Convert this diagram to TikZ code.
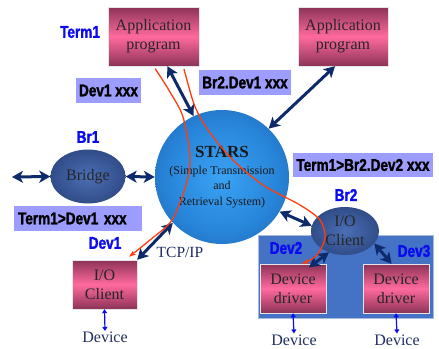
\documentclass[tikz,border=0pt]{standalone}
\usepackage{fontspec}
\setmainfont{Liberation Serif}
\newfontfamily\tagfont{Liberation Sans}[FakeStretch=0.8,FakeBold=1.5]
\usetikzlibrary{arrows.meta,shapes.geometric}
\definecolor{pinkbr}{HTML}{FF6A9D}
\definecolor{pinkdk}{HTML}{8C3357}
\definecolor{tagfill}{HTML}{9D9DFF}
\definecolor{labelblue}{HTML}{0A0AF0}
\definecolor{bayblue}{HTML}{4472C4}
\definecolor{bayedge}{HTML}{A9BCE0}
\definecolor{arrownavy}{HTML}{0D2A6B}
\definecolor{routered}{HTML}{FF3D0D}
\definecolor{textnavy}{HTML}{1F2D5E}
\definecolor{starsin}{HTML}{3AA2F4}
\definecolor{starsmid}{HTML}{2886DA}
\definecolor{starsdeep}{HTML}{1A5AA5}
\definecolor{starsout}{HTML}{0D2C5A}
\definecolor{ovalin}{HTML}{4B6EB5}
\definecolor{ovalout}{HTML}{172C5C}
\pgfdeclareradialshading{starsball}{\pgfpoint{0bp}{0bp}}{color(0bp)=(starsin); color(20bp)=(starsmid); color(40bp)=(starsdeep); color(50bp)=(starsout)}
\pgfdeclareradialshading{ovalball}{\pgfpoint{0bp}{0bp}}{color(0bp)=(ovalin); color(50bp)=(ovalout)}

\begin{document}
\begin{tikzpicture}[x=1pt, y=-1pt,
        app/.style={rectangle, draw=gray!20, top color=pinkdk, bottom color=pinkdk, middle color=pinkbr,
            text=black!85, align=center, font=\fontsize{16}{19}\selectfont, inner sep=0pt},
        tag/.style={fill=tagfill, text=black, font=\tagfont\bfseries\fontsize{17}{17}\selectfont,
            minimum height=25pt, inner sep=0pt},
        who/.style={text=labelblue, font=\tagfont\bfseries\fontsize{17}{17}\selectfont, inner sep=0pt},
        oval/.style={ellipse, shade, shading=ovalball, text=black!85, align=center,
            font=\fontsize{16}{19}\selectfont, inner sep=0pt},
        hub/.style={circle, shade, shading=starsball, text=black!90, align=center,
            font=\fontsize{12}{15.5}\selectfont, inner sep=0pt},
        bay/.style={rectangle, fill=bayblue, draw=bayedge, line width=0.8pt},
        note/.style={text=textnavy, font=\fontsize{16}{19}\selectfont, inner sep=1pt},
        link/.style={line width=3pt, draw=arrownavy,
            {Stealth[length=11pt,width=12pt,inset=3pt]}-{Stealth[length=11pt,width=12pt,inset=3pt]}},
        wire/.style={line width=1.2pt, draw=labelblue, {Triangle[length=4pt,width=5pt]}-{Triangle[length=4pt,width=5pt]}},
        route/.style={line width=1.3pt, draw=routered, -{Stealth[length=7pt,width=5pt]}}
    ]
        \useasboundingbox (0,0) rectangle (439,348);

        \node [bay, minimum width=175pt, minimum height=83pt] (brbox) at (345.5,276.5) {};

        \node [app, minimum width=91pt, minimum height=59pt] (app1) at (153.5,36.5) {Application\\program};
        \node [app, minimum width=90pt, minimum height=59pt] (app2) at (343,36.5) {Application\\program};
        \node [who] (term1) at (80,32) {Term1};

        \node [tag, minimum width=65pt] (tagdev) at (108.5,90.5) {Dev1 xxx};
        \node [tag, minimum width=92pt] (tagbrdev) at (245,82.5) {Br2.Dev1 xxx};
        \node [tag, minimum width=140pt, minimum height=24pt] (tagtermbr) at (363,165) {Term1>Br2.Dev2 xxx};
        \node [tag, text width=120pt, inner xsep=4pt, align=left] (tagtermdev) at (78,218.5) {Term1>Dev1 xxx};

        \node [who] (br1) at (88,137) {Br1};
        \node [oval, minimum width=75pt, minimum height=54pt] (bridge) at (88,176.5) {Bridge};
        \coordinate (farleft) at (12,177);

        \node [hub, minimum size=134pt] (stars) at (222,177)
            {{\fontsize{17}{17}\selectfont\bfseries STARS}\\[1pt](Simple Transmission\\and\\Retrieval System)};

        \node [who] (br2) at (346,195) {Br2};
        \node [oval, minimum width=68pt, minimum height=48pt] (brclient) at (345,231) {I/O\\Client};
        \node [who] (dev2) at (286,248) {Dev2};
        \node [who] (dev3) at (414,251) {Dev3};
        \node [app, minimum width=66pt, minimum height=49pt] (drvtwo) at (293,288.5) {Device\\driver};
        \node [app, minimum width=66pt, minimum height=49pt] (drvthree) at (396,288.5) {Device\\driver};

        \node [who] (dev1) at (105,243) {Dev1};
        \node [app, minimum width=65pt, minimum height=49pt] (ioclient) at (104.5,284.5) {I/O\\Client};
        \node [note, font=\fontsize{15.5}{19}\selectfont] (tcp) at (180,252) {TCP/IP};

        \node [note] (devone) at (105,337.5) {Device};
        \node [note] (devtwo) at (294,340) {Device};
        \node [note] (devthree) at (397,340) {Device};

        \draw [link] (farleft) -- (bridge.west);
        \draw [link] (bridge.east) -- (stars.west);
        \draw [link] (app1.-65) -- (stars.115);
        \draw [link] (stars.46) -- (app2.-105);
        \draw [link] (stars.-31) -- (brclient.171);
        \draw [link] (stars.223) -- (ioclient.north east);
        \draw [link, shorten >=-6pt] (brclient.-127) -- (drvtwo.50);
        \draw [link] (brclient.-23) -- (drvthree.100);

        \draw [wire] (ioclient.south) -- (devone.north);
        \draw [wire] (drvtwo.south) -- (devtwo.north);
        \draw [wire] (drvthree.south) -- (devthree.north);

        \draw [route, shorten <=3pt, shorten >=5pt] plot [smooth] coordinates
            {(app1.south) (170,92) (183,117) (190,157) (186,185) (172,220) (150,240) (ioclient.50)};
        \draw [route, shorten <=3pt] plot [smooth] coordinates
            {(app1.-45) (200,117) (230,157) (263,185) (300,205) (320,220) (325,238) (316,256) (drvtwo.70)};
    \end{tikzpicture}
\end{document}
